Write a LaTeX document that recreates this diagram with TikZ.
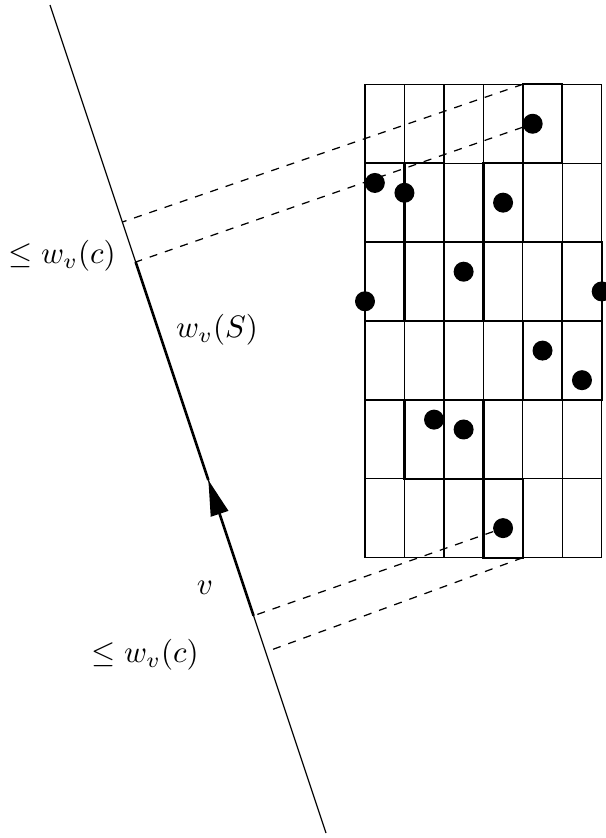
\documentclass[tikz,border=0pt]{standalone}
\usetikzlibrary{calc,arrows.meta}
\tikzset{
  dot/.style={circle, fill=black, inner sep=0pt, minimum size=6.45pt},
  gridline/.style={line width=0.4pt},
  cellbox/.style={line width=0.75pt},
  proj/.style={line width=0.4pt, dash pattern=on 2.6pt off 2.6pt},
  lbl/.style={inner sep=0pt},
  axisline/.style={line width=0.4pt},
  widthseg/.style={line width=0.85pt},
}
\begin{document}
\begin{tikzpicture}[x=0.32258pt, y=-0.32258pt]
\useasboundingbox (0,0) rectangle (605,838);
% the direction line
\coordinate (A) at (50,5);
\coordinate (B) at (326,833);
\draw[axisline] (A) -- (B);
\coordinate (f1) at ($(A)!0.2621!(B)$);
\coordinate (f2) at ($(A)!0.3104!(B)$);
\coordinate (tip) at ($(A)!0.5737!(B)$);
\coordinate (f3) at ($(A)!0.7376!(B)$);
\coordinate (f4) at ($(A)!0.7814!(B)$);
% grid
\begin{scope}[shift={(365,84.3)}, x=12.726pt, y=-12.726pt]
  \foreach \i in {0,...,6} \draw[gridline] (\i,0) -- (\i,12);
  \foreach \j in {0,2,...,12} \draw[gridline] (0,\j) -- (6,\j);
  \foreach \c/\r in {4/0, 0/1, 1/1, 3/1, 0/2, 2/2, 5/2, 4/3, 5/3, 1/4, 2/4, 3/5}
    \draw[cellbox] (\c,2*\r) rectangle ++(1,2);
  \node[dot] (p1) at (4.25,1) {};
  \node[dot] (p2) at (0.25,2.5) {};
  \node[dot] (p3) at (1.0,2.75) {};
  \node[dot] (p4) at (3.5,3.0) {};
  \node[dot] (p5) at (2.5,4.75) {};
  \node[dot] (p6) at (0,5.5) {};
  \node[dot] (p7) at (6.0,5.25) {};
  \node[dot] (p8) at (4.5,6.75) {};
  \node[dot] (p9) at (5.5,7.5) {};
  \node[dot] (p10) at (1.75,8.5) {};
  \node[dot] (p11) at (2.5,8.75) {};
  \node[dot] (p12) at (3.5,11.25) {};
  \coordinate (c1) at (4,0);
  \coordinate (c2) at (4,12);
\end{scope}
% projections
\draw[proj] (c1) -- (f1);
\draw[proj] (p1) -- (f2);
\draw[proj] (p12) -- (f3);
\draw[proj] (c2) -- (f4);
% width segment with arrow
\draw[widthseg, -{Triangle[length=11.5pt,width=5.8pt]}] (f3) -- (tip);
\draw[widthseg] (tip) -- (f2);
% labels
\node[lbl] (l1) at (62,256) {$\le w_v(c)$};
\node[lbl] (l2) at (217,330) {$w_v(S)$};
\node[lbl] (l3) at (205,588) {$v$};
\node[lbl] (l4) at (145,655) {$\le w_v(c)$};
\end{tikzpicture}
\end{document}
